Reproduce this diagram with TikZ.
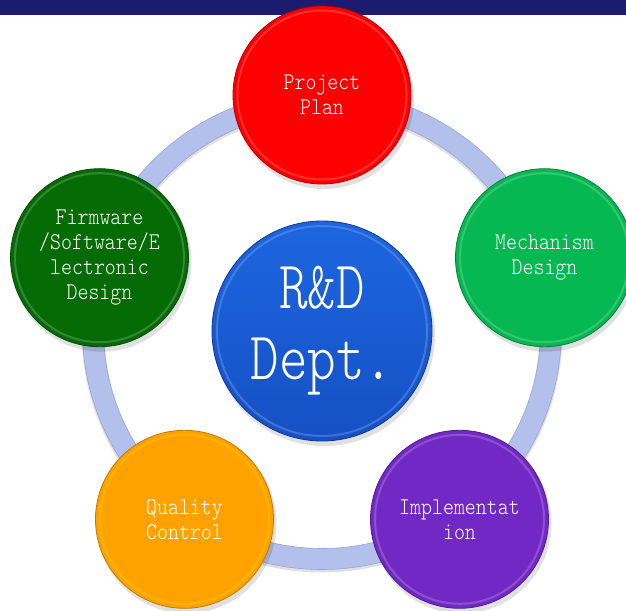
\documentclass[tikz,border=0pt]{standalone}
\usepackage{tikz}
\usepackage{graphicx}

\definecolor{barnavy}{HTML}{1B1B6F}
\definecolor{ringblue}{HTML}{B4C0EC}
\definecolor{ringedge}{HTML}{98A4D6}
\definecolor{planred}{HTML}{FF0000}
\definecolor{mechgreen}{HTML}{05B852}
\definecolor{implpurple}{HTML}{7228C4}
\definecolor{qualorange}{HTML}{FFA200}
\definecolor{firmgreen}{HTML}{056B05}
\definecolor{hubtop}{HTML}{1C66E0}
\definecolor{hubbot}{HTML}{1650C4}

\newcommand{\narrowtxt}[1]{\scalebox{0.87}[1]{#1}}
\newcommand{\widetxt}[1]{\scalebox{0.8}[1]{#1}}

\begin{document}
\begin{tikzpicture}[x=1pt,y=-1pt,line cap=round,line join=round,
    bubble/.style={circle,minimum size=178pt,inner sep=0pt,text=white,align=center,
        font=\ttfamily\fontseries{l}\fontsize{24}{25}\selectfont},
    hubbubble/.style={bubble,minimum size=220pt,font=\ttfamily\fontseries{l}\fontsize{68}{71}\selectfont},
    rim/.style={line width=2pt,draw opacity=0.35},
    outline/.style={line width=0.8pt},
    shade/.style={fill=black,fill opacity=0.12}]
\useasboundingbox (0,0) rectangle (626,610);
\clip (0,0) rectangle (626,610);
% top band
\fill[barnavy] (0,0) rectangle (626,15);
% ring
\draw[black,opacity=0.12,line width=23pt] (322,332) circle (229);
\draw[ringblue,line width=21pt] (322,330) circle (229);
\draw[ringedge,line width=0.6pt] (322,330) circle (239.5);
\draw[ringedge,line width=0.6pt] (322,330) circle (218.5);
% shadows
\fill[shade] (324,99) circle (90);
\fill[shade] (546.5,261.7) circle (90);
\fill[shade] (461.5,523.3) circle (90);
\fill[shade] (186.5,523.3) circle (90);
\fill[shade] (101.5,261.7) circle (90);
\fill[shade] (324,335) circle (111);
% bubbles
\node[hubbubble,top color=hubtop,bottom color=hubbot] (hub) at (322,331) {\widetxt{R\&D}\\\widetxt{Dept.}};
\node[bubble,fill=planred] (plan) at (322,95) {\narrowtxt{Project}\\\narrowtxt{Plan}};
\node[bubble,fill=mechgreen] (mech) at (544.5,257.7) {\narrowtxt{Mechanism}\\\narrowtxt{Design}};
\node[bubble,fill=implpurple] (impl) at (459.5,519.3) {\narrowtxt{Implementat}\\\narrowtxt{ion}};
\node[bubble,fill=qualorange] (qual) at (184.5,519.3) {\narrowtxt{Quality}\\\narrowtxt{Control}};
\node[bubble,fill=firmgreen] (firm) at (99.5,257.7) {\narrowtxt{Firmware}\\\narrowtxt{/Software/E}\\\narrowtxt{lectronic}\\\narrowtxt{Design}};
% bevel rims
\draw[rim,hubtop!50!white] (hub.center) circle (105);
\draw[rim,planred!45!white] (plan.center) circle (84.5);
\draw[rim,mechgreen!45!white] (mech.center) circle (84.5);
\draw[rim,implpurple!45!white] (impl.center) circle (84.5);
\draw[rim,qualorange!40!yellow] (qual.center) circle (84.5);
\draw[rim,firmgreen!45!white] (firm.center) circle (84.5);
% outer edges
\draw[outline,hubbot!70!black] (hub.center) circle (110);
\draw[outline,planred!70!black] (plan.center) circle (89);
\draw[outline,mechgreen!70!black] (mech.center) circle (89);
\draw[outline,implpurple!70!black] (impl.center) circle (89);
\draw[outline,qualorange!75!black] (qual.center) circle (89);
\draw[outline,firmgreen!70!black] (firm.center) circle (89);
\end{tikzpicture}
\end{document}
